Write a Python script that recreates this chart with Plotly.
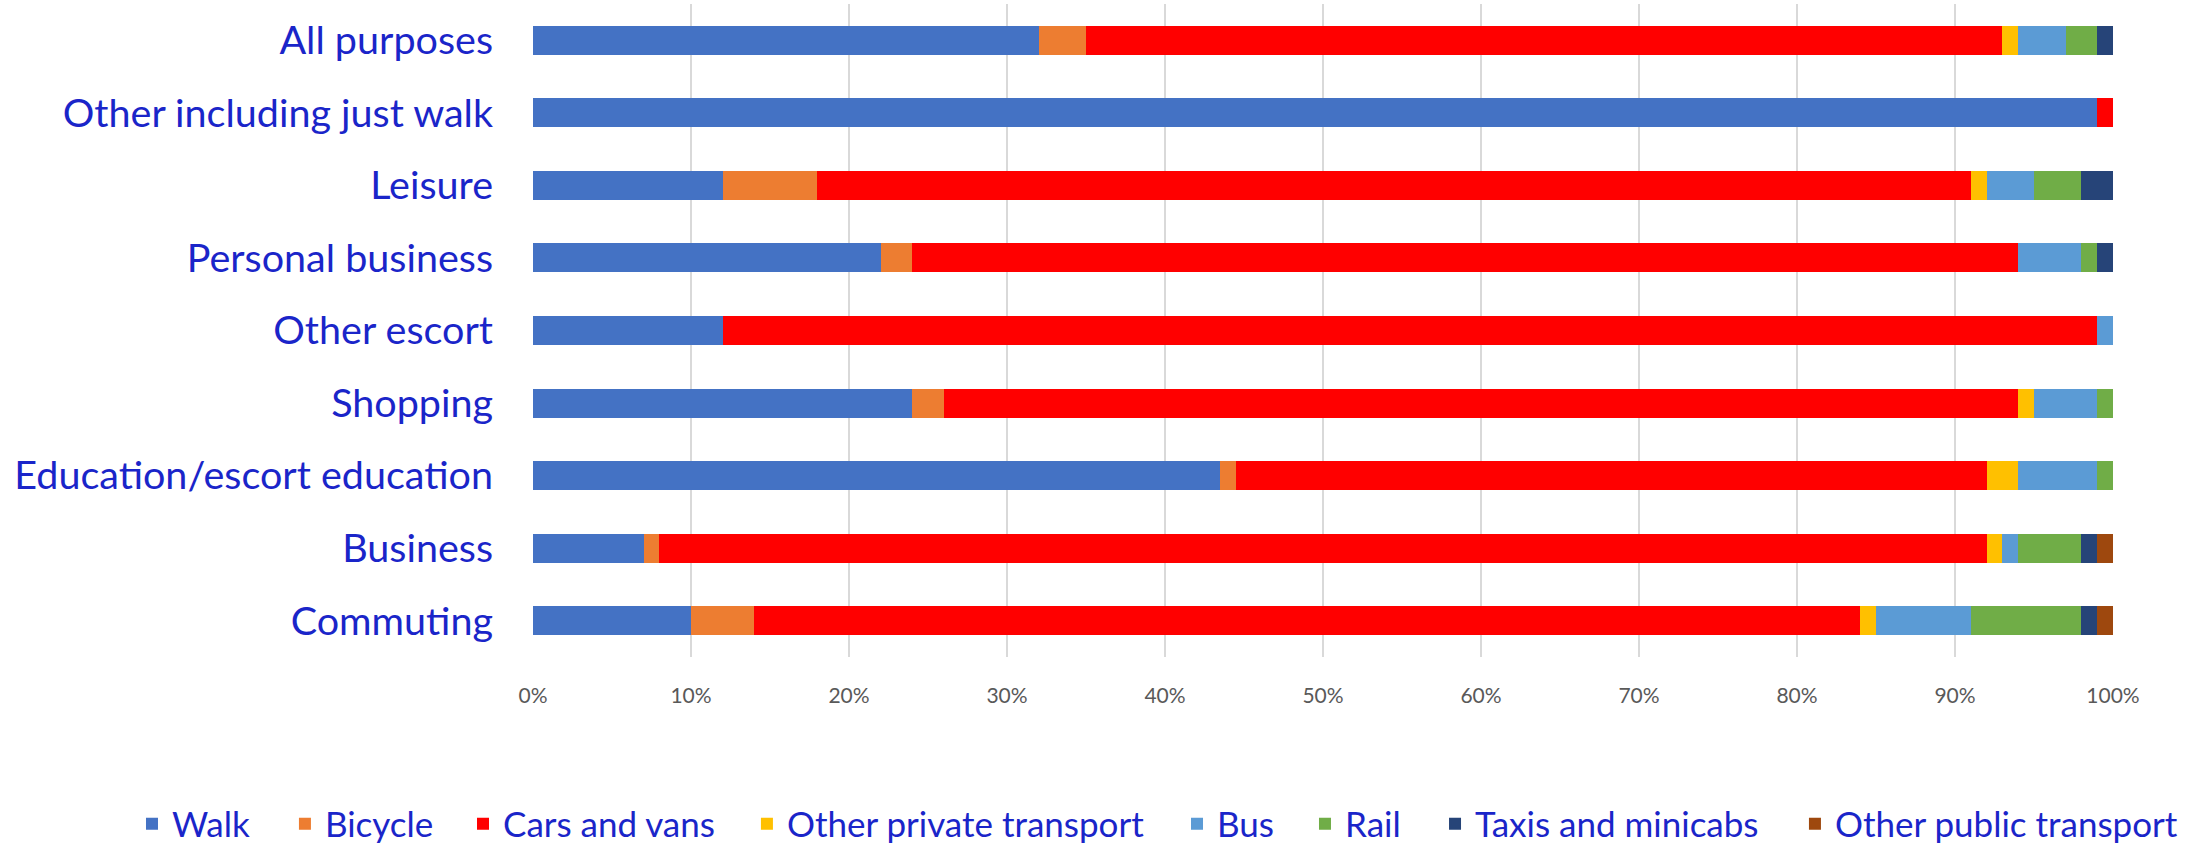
import plotly.graph_objects as go

categories = ["Commuting", "Business", "Education/escort education", "Shopping",
              "Other escort", "Personal business", "Leisure",
              "Other including just walk", "All purposes"]

walk          = [10, 7, 43.5, 24, 12, 22, 12, 99, 32]
bicycle       = [4, 1, 1, 2, 0, 2, 6, 0, 3]
cars_vans     = [70, 84, 47.5, 68, 87, 70, 73, 1, 58]
other_private = [1, 1, 2, 1, 0, 0, 1, 0, 1]
bus           = [6, 1, 5, 4, 1, 4, 3, 0, 3]
rail          = [7, 4, 1, 1, 0, 1, 3, 0, 2]
taxis         = [1, 1, 0, 0, 0, 1, 2, 0, 1]
other_public  = [1, 1, 0, 0, 0, 0, 0, 0, 0]

series = [
    ("Walk", walk, "#4472C4"),
    ("Bicycle", bicycle, "#ED7D31"),
    ("Cars and vans", cars_vans, "#FF0000"),
    ("Other private transport", other_private, "#FFC000"),
    ("Bus", bus, "#5B9BD5"),
    ("Rail", rail, "#70AD47"),
    ("Taxis and minicabs", taxis, "#264478"),
    ("Other public transport", other_public, "#9E480E"),
]

tick_vals = [0, 10, 20, 30, 40, 50, 60, 70, 80, 90, 100]
tick_text = ["0%", "10%", "20%", "30%", "40%", "50%", "60%", "70%", "80%", "90%", "100%"]

# legend entry positions (paper x of each one-entry legend box)
legend_x = [-0.2538, -0.1570, -0.0443, 0.1354, 0.4076, 0.4886, 0.5709, 0.7987]

label_color = "#1a25c9"
font_family = "Lato, 'Open Sans', sans-serif"

fig = go.Figure()
layout_legends = {}
for i, (name, vals, color) in enumerate(series):
    key = f"legend{i + 2}"
    fig.add_trace(go.Bar(
        y=categories, x=vals, name=name, orientation="h",
        marker=dict(color=color, line=dict(width=0)),
        legend=key, showlegend=True,
    ))
    layout_legends[key] = dict(
        orientation="h", x=legend_x[i], xanchor="left",
        y=-0.2557, yanchor="middle",
        font=dict(size=35, color=label_color, family=font_family),
        bgcolor="rgba(0,0,0,0)", itemwidth=30,
    )

fig.update_layout(
    barmode="stack",
    bargap=0.6,
    width=2208, height=846,
    margin=dict(l=533, r=95, t=4, b=189, autoexpand=False),
    plot_bgcolor="white", paper_bgcolor="white",
    font=dict(family=font_family, color=label_color),
    xaxis=dict(
        range=[0, 100], tickvals=tick_vals, ticktext=tick_text,
        showgrid=True, gridcolor="#D9D9D9", gridwidth=2,
        zeroline=False, showline=False,
        tickfont=dict(size=21, color="#595959", family=font_family),
        ticks="", ticklabelstandoff=24,
    ),
    yaxis=dict(
        categoryorder="array", categoryarray=categories,
        tickfont=dict(size=39.5, color=label_color, family=font_family),
        showgrid=False, showline=False, ticks="", ticklabelstandoff=39,
    ),
    **layout_legends,
)

fig.write_html("out.html")
